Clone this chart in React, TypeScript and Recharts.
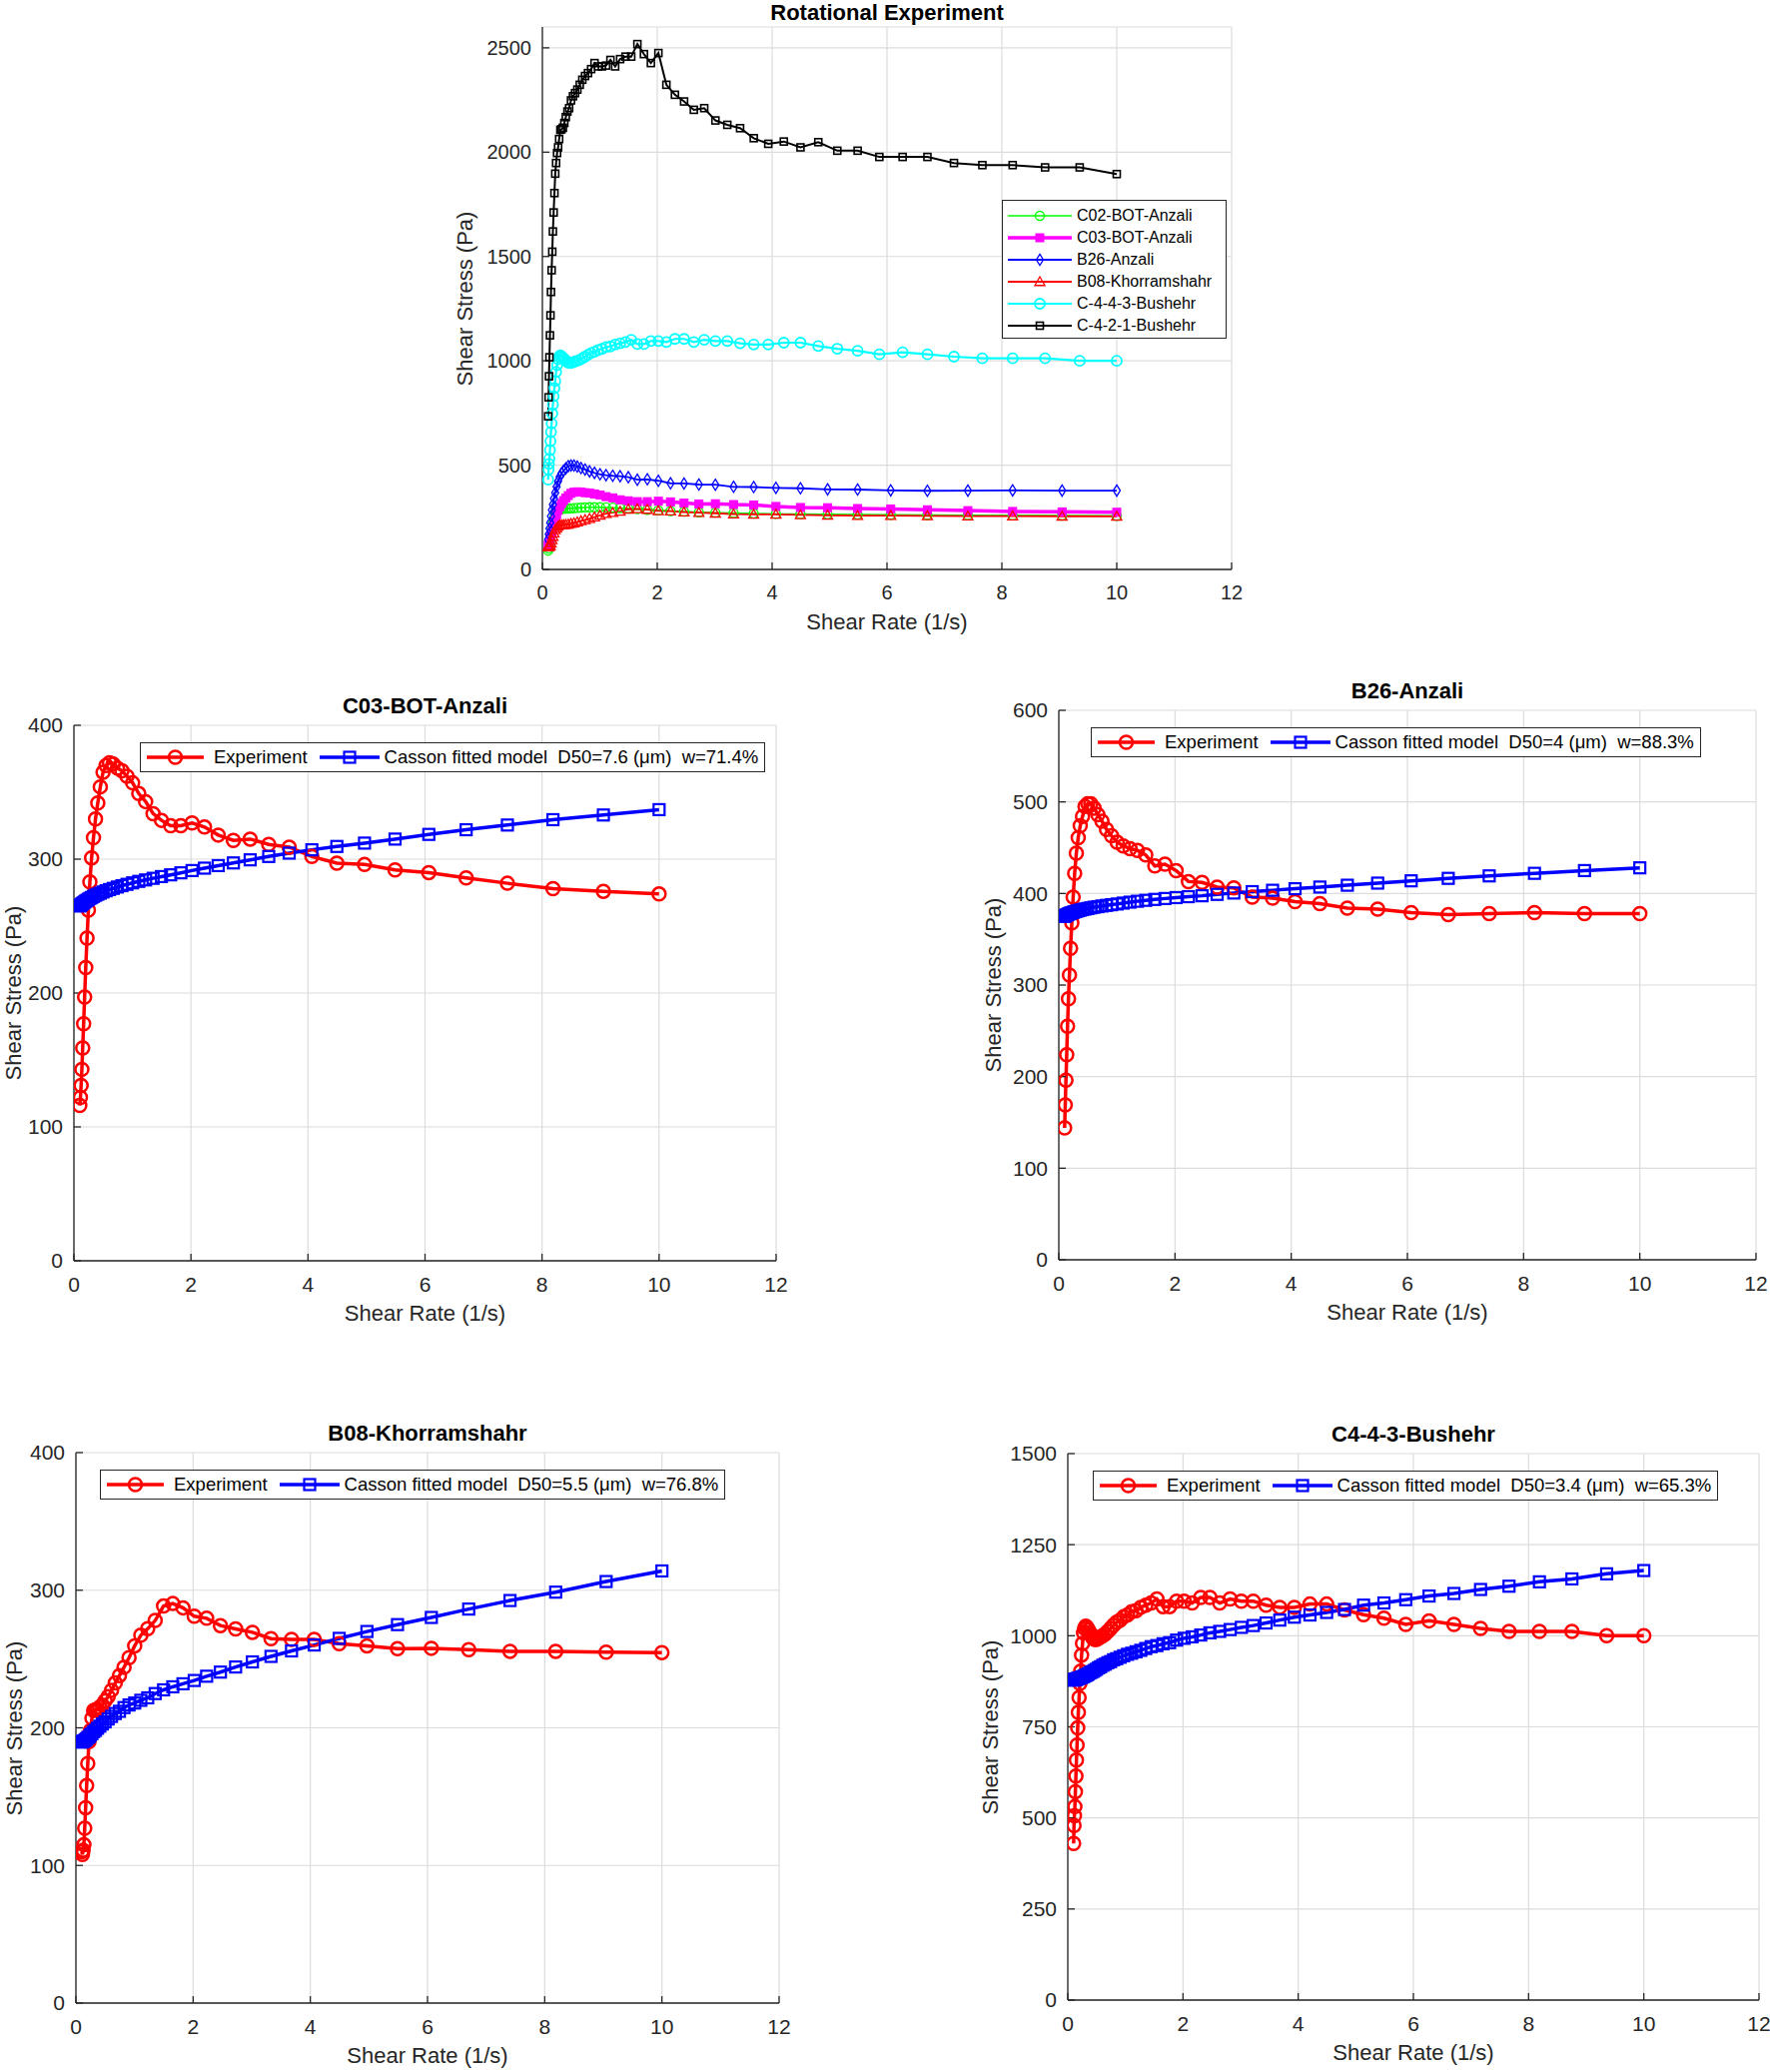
import React from 'react';
import { LineChart, Line, XAxis, YAxis, CartesianGrid } from 'recharts';

// shear rate grids (1/s)
const rateA = [0.1, 0.111, 0.123, 0.136, 0.15, 0.166, 0.183, 0.202, 0.224, 0.247, 0.273, 0.302, 0.334, 0.369, 0.408, 0.451, 0.498, 0.55, 0.608, 0.672, 0.743, 0.821, 0.907, 1.003, 1.108, 1.225, 1.353, 1.496, 1.653, 1.827, 2.019, 2.231, 2.466, 2.725, 3.012, 3.329, 3.679, 4.066, 4.493, 4.966, 5.488, 6.065, 6.703, 7.408, 8.187, 9.048, 10];
const rateB = [0.101, 0.108, 0.115, 0.123, 0.132, 0.141, 0.15, 0.161, 0.172, 0.183, 0.196, 0.21, 0.224, 0.239, 0.256, 0.274, 0.292, 0.313, 0.334, 0.357, 0.382, 0.408, 0.436, 0.466, 0.498, 0.533, 0.569, 0.609, 0.651, 0.695, 0.743, 0.794, 0.849, 0.908, 0.97, 1.037, 1.109, 1.185, 1.267, 1.354, 1.447, 1.547, 1.654, 1.768, 1.889, 2.02, 2.159, 2.308, 2.467, 2.637, 2.818, 3.013, 3.22, 3.442, 3.68, 3.933, 4.204, 4.494, 4.804, 5.135, 5.489, 5.867, 6.272, 6.704, 7.166, 7.66, 8.188, 8.752, 9.355, 10];

// shear stress (Pa)
const c02Exp = [90, 100, 115, 135, 160, 190, 220, 245, 262, 275, 283, 288, 290, 291, 292, 292, 293, 294, 295, 296, 297, 298, 298, 298, 297, 296, 294, 292, 289, 286, 283, 280, 277, 274, 272, 270, 268, 266, 265, 264, 263, 262, 261, 260, 259, 258, 257];
const c03Exp = [116, 122, 131, 143, 159, 177, 197, 219, 241, 262, 283, 301, 316, 330, 342, 354, 365, 370, 372, 371, 368, 366, 362, 357, 349, 343, 334, 329, 325, 325, 327, 324, 318, 314, 315, 311, 309, 302, 297, 296, 292, 290, 286, 282, 278, 276, 274];
const c03Fit = [265, 265.5, 266, 266.5, 267, 267.5, 268, 268.7, 269.3, 270, 270.7, 271.4, 272.2, 273, 273.8, 274.6, 275.5, 276.4, 277.3, 278.2, 279.2, 280.2, 281.2, 282.3, 283.4, 284.5, 285.7, 287, 288.3, 289.8, 291.5, 293.3, 295.2, 297.2, 299.5, 302, 304.5, 307, 309.5, 312, 315, 318.5, 322, 325.5, 329.5, 333, 337];
const b26Exp = [144, 169, 196, 224, 255, 285, 311, 340, 368, 396, 422, 444, 461, 474, 484, 495, 498, 498, 493, 486, 479, 470, 463, 456, 452, 449, 447, 442, 430, 432, 425, 413, 412, 407, 406, 396, 395, 391, 389, 384, 383, 379, 377, 378, 379, 378, 378];
const b26Fit = [375, 375.5, 376, 376.5, 377, 377.5, 378, 378.5, 379, 379.5, 380, 380.6, 381.2, 381.8, 382.4, 383, 383.6, 384.3, 385, 385.6, 386.3, 387, 387.7, 388.5, 389.5, 390.5, 391.5, 392.5, 393.5, 394.5, 395.5, 396.5, 397.5, 399, 400.5, 402, 403.5, 405.2, 407, 409, 411.3, 413.8, 416.5, 419.2, 422, 425, 428];
const b08Exp = [110, 108, 111, 115, 127, 142, 158, 174, 190, 198, 207, 212.6, 213, 213.5, 215, 216.6, 219.6, 222.7, 227.3, 232.6, 238, 244, 251, 259.6, 267.3, 272, 278, 288.5, 290.3, 287.2, 281.1, 279.6, 274.3, 271.9, 269.4, 264.8, 264.2, 264.2, 261.1, 259.6, 257.5, 257.8, 256.8, 255.6, 255.6, 255, 254.7];
const b08Fit = [189.6, 189.9, 190.2, 190.5, 190.8, 191.4, 192, 192.9, 193.5, 194.8, 195.7, 197.2, 198.2, 199.7, 201.2, 202.8, 204.3, 206.4, 208.3, 210.4, 212, 214.7, 216.6, 218, 220, 221.8, 224.9, 227.6, 229.8, 232, 234.4, 237.5, 240.5, 244.2, 247.9, 251.9, 255.9, 260.2, 265, 270, 275, 280.2, 286.3, 292.5, 298.6, 306.3, 314];
const c443Exp = [430, 479, 506, 531, 572, 615, 659, 700, 747, 790, 830, 869, 903, 947, 979, 1008, 1020, 1026, 1022, 1016, 1008, 1002, 993, 990, 990, 993, 997, 1000, 1005, 1012, 1020, 1029, 1037, 1043, 1052, 1057, 1066, 1069, 1078, 1084, 1090, 1101, 1080, 1080, 1095, 1095, 1090, 1105, 1105, 1090, 1101, 1095, 1095, 1084, 1078, 1078, 1087, 1087, 1071, 1058, 1048, 1031, 1041, 1031, 1020, 1012, 1012, 1012, 1000, 1000];
const c443Fit = [878, 879, 879, 880, 880, 880, 881, 881, 883, 883, 884, 884, 885, 886, 887, 888, 890, 891, 893, 895, 898, 900, 902, 905, 908, 912, 915, 919, 922, 926, 929, 934, 937, 941, 945, 949, 952, 956, 960, 965, 970, 973, 978, 981, 988, 993, 997, 1002, 1008, 1012, 1017, 1023, 1028, 1035, 1043, 1051, 1057, 1064, 1072, 1084, 1090, 1099, 1109, 1116, 1127, 1136, 1148, 1156, 1170, 1179];
const c421Exp = [734, 825, 926, 1017, 1122, 1218, 1330, 1434, 1523, 1620, 1711, 1804, 1897, 1948, 1996, 2023, 2063, 2107, 2110, 2117, 2140, 2168, 2195, 2211, 2248, 2268, 2283, 2300, 2323, 2347, 2365, 2379, 2398, 2427, 2411, 2411, 2415, 2442, 2411, 2446, 2458, 2458, 2518, 2470, 2427, 2475, 2323, 2275, 2243, 2203, 2211, 2152, 2131, 2115, 2067, 2040, 2051, 2023, 2048, 2007, 2007, 1977, 1977, 1977, 1948, 1938, 1938, 1927, 1927, 1895];

const xTicks = [0, 2, 4, 6, 8, 10, 12];

const FONT = '"Liberation Sans", Arial, Helvetica, sans-serif';
const AX = '#262626';
const L = 100, T = 12, R = 12, B = 44;

type Pt = { x: number; y: number };
const pts = (xs: number[], ys: number[]): Pt[] => xs.map((x, i) => ({ x, y: ys[i] }));

type Kind = 'circle' | 'square' | 'diamond' | 'triangle';

interface Series {
  name: string;
  data: Pt[];
  color: string;
  width: number;
  marker: Kind;
  size: number;
  msw: number;
  fill?: string;
}

function Marker({ kind, cx, cy, size, color, sw, fill }: any) {
  const f = fill || 'none';
  if (kind === 'circle') return <circle cx={cx} cy={cy} r={size} fill={f} stroke={color} strokeWidth={sw} />;
  if (kind === 'square')
    return <rect x={cx - size} y={cy - size} width={size * 2} height={size * 2} fill={f} stroke={color} strokeWidth={sw} />;
  if (kind === 'diamond')
    return (
      <polygon
        points={`${cx},${cy - size * 1.6} ${cx + size},${cy} ${cx},${cy + size * 1.6} ${cx - size},${cy}`}
        fill={f}
        stroke={color}
        strokeWidth={sw}
      />
    );
  return (
    <polygon
      points={`${cx},${cy - size} ${cx + size},${cy + size * 0.75} ${cx - size},${cy + size * 0.75}`}
      fill={f}
      stroke={color}
      strokeWidth={sw}
    />
  );
}

function Sample({ s, w }: { s: Series; w: number }) {
  return (
    <svg width={w} height={22} style={{ display: 'block', flex: 'none' }}>
      <line x1={0} y1={11} x2={w} y2={11} stroke={s.color} strokeWidth={s.width} />
      <Marker kind={s.marker} cx={w / 2} cy={11} size={s.size} color={s.color} sw={s.msw} fill={s.fill} />
    </svg>
  );
}

interface Box { x: number; y: number; w: number; h: number }

function Panel({ box, title, yDomain, yTicks, series, yGap, tickFont, titleGap = 19 }: {
  box: Box; title: string; yDomain: number[]; yTicks: number[]; series: Series[]; yGap: number; tickFont: number; titleGap?: number;
}) {
  const { x, y, w, h } = box;
  const tickStyle = { fill: AX, fontSize: tickFont, fontFamily: FONT };
  return (
    <>
      <div style={{ position: 'absolute', left: x - L, top: y - T }}>
        <LineChart width={w + L + R} height={h + T + B} margin={{ top: T, right: R, bottom: 0, left: 0 }}>
          <CartesianGrid xAxisId="b" yAxisId="l" stroke="#dcdcdc" strokeWidth={1.2} />
          <XAxis xAxisId="b" type="number" dataKey="x" domain={[0, 12]} ticks={xTicks} interval={0} height={B}
            tickSize={-7} tickMargin={23} stroke={AX} strokeWidth={1.3} tick={tickStyle} allowDataOverflow />
          <XAxis xAxisId="t" orientation="top" type="number" dataKey="x" domain={[0, 12]} ticks={xTicks} interval={0}
            height={0} tickSize={-7} stroke={AX} strokeWidth={1.3} tick={false} allowDataOverflow />
          <YAxis yAxisId="l" type="number" domain={yDomain} ticks={yTicks} interval={0} width={L}
            tickSize={-7} tickMargin={18} stroke={AX} strokeWidth={1.3} tick={tickStyle} allowDataOverflow />
          <YAxis yAxisId="r" orientation="right" type="number" domain={yDomain} ticks={yTicks} interval={0} width={0}
            tickSize={-7} stroke={AX} strokeWidth={1.3} tick={false} allowDataOverflow />
          {series.map((s) => (
            <Line
              key={s.name}
              xAxisId="b"
              yAxisId="l"
              data={s.data}
              dataKey="y"
              type="linear"
              stroke={s.color}
              strokeWidth={s.width}
              isAnimationActive={false}
              activeDot={false}
              dot={(p: any) => (
                <Marker key={`${s.name}-${p.index}`} kind={s.marker} cx={p.cx} cy={p.cy} size={s.size}
                  color={s.color} sw={s.msw} fill={s.fill} />
              )}
            />
          ))}
        </LineChart>
      </div>
      <div style={{ position: 'absolute', left: x + w / 2, top: y - titleGap, transform: 'translate(-50%, -50%)',
        fontFamily: FONT, fontWeight: 'bold', fontSize: 22, color: '#000', whiteSpace: 'nowrap' }}>{title}</div>
      <div style={{ position: 'absolute', left: x + w / 2, top: y + h + 53, transform: 'translate(-50%, -50%)',
        fontFamily: FONT, fontSize: 22, color: AX, whiteSpace: 'nowrap' }}>Shear Rate (1/s)</div>
      <div style={{ position: 'absolute', left: x - yGap, top: y + h / 2, transform: 'translate(-50%, -50%) rotate(-90deg)',
        fontFamily: FONT, fontSize: 22, color: AX, whiteSpace: 'nowrap' }}>Shear Stress (Pa)</div>
    </>
  );
}

const expStyle = (data: Pt[]): Series => ({
  name: 'Experiment', data, color: '#ff0000', width: 3.5, marker: 'circle', size: 6.5, msw: 2.5,
});
const fitStyle = (data: Pt[]): Series => ({
  name: 'Casson', data, color: '#0000ff', width: 3.5, marker: 'square', size: 5.5, msw: 2.2,
});

function FitLegend({ left, top, s, text }: { left: number; top: number; s: Series[]; text: string }) {
  return (
    <div style={{ position: 'absolute', left, top, height: 30, border: `1px solid ${AX}`, background: '#fff',
      display: 'flex', alignItems: 'center', fontFamily: FONT, fontSize: 18.5, color: '#000', whiteSpace: 'pre',
      boxSizing: 'border-box', padding: '0 6px' }}>
      <Sample s={s[0]} w={57} />
      <span style={{ marginLeft: 10 }}>Experiment</span>
      <div style={{ marginLeft: 12 }}><Sample s={s[1]} w={60} /></div>
      <span style={{ marginLeft: 5 }}>{text}</span>
    </div>
  );
}

const topSeries: Series[] = [
  { name: 'C02-BOT-Anzali', data: pts(rateA, c02Exp), color: '#00ff00', width: 1.6, marker: 'circle', size: 4.5, msw: 1.3 },
  { name: 'C03-BOT-Anzali', data: pts(rateA, c03Exp), color: '#ff00ff', width: 3.5, marker: 'square', size: 4, msw: 1, fill: '#ff00ff' },
  { name: 'B26-Anzali', data: pts(rateA, b26Exp), color: '#0000ff', width: 1.8, marker: 'diamond', size: 3.5, msw: 1.3 },
  { name: 'B08-Khorramshahr', data: pts(rateA, b08Exp), color: '#ff0000', width: 1.8, marker: 'triangle', size: 5, msw: 1.3 },
  { name: 'C-4-4-3-Bushehr', data: pts(rateB, c443Exp), color: '#00ffff', width: 2.2, marker: 'circle', size: 5, msw: 1.8 },
  { name: 'C-4-2-1-Bushehr', data: pts(rateB, c421Exp), color: '#000000', width: 2, marker: 'square', size: 3.5, msw: 1.6 },
];

const c03Series = [expStyle(pts(rateA, c03Exp)), fitStyle(pts(rateA, c03Fit))];
const b26Series = [expStyle(pts(rateA, b26Exp)), fitStyle(pts(rateA, b26Fit))];
const b08Series = [expStyle(pts(rateA, b08Exp)), fitStyle(pts(rateA, b08Fit))];
const c443Series = [expStyle(pts(rateB, c443Exp)), fitStyle(pts(rateB, c443Fit))];

export default function App() {
  return (
    <div style={{ position: 'absolute', left: 0, top: 0, width: 1772, height: 2074, background: '#fff', overflow: 'hidden' }}>
      <Panel box={{ x: 543, y: 27, w: 690, h: 543 }} title="Rotational Experiment" yDomain={[0, 2600]}
        yTicks={[0, 500, 1000, 1500, 2000, 2500]} series={topSeries} yGap={77} tickFont={20} titleGap={14} />
      <div style={{ position: 'absolute', left: 1003, top: 200, width: 225, height: 139, border: `1px solid ${AX}`,
        background: '#fff', boxSizing: 'border-box', padding: '4px 0 0 5px', fontFamily: FONT, fontSize: 16, color: '#000' }}>
        {topSeries.map((s) => (
          <div key={s.name} style={{ display: 'flex', alignItems: 'center', height: 22 }}>
            <Sample s={s} w={64} />
            <span style={{ marginLeft: 5, whiteSpace: 'nowrap' }}>{s.name}</span>
          </div>
        ))}
      </div>

      <Panel box={{ x: 74, y: 726, w: 703, h: 536 }} title="C03-BOT-Anzali" yDomain={[0, 400]}
        yTicks={[0, 100, 200, 300, 400]} series={c03Series} yGap={60} tickFont={21} />
      <FitLegend left={140} top={743} s={c03Series} text={'Casson fitted model  D50=7.6 (μm)  w=71.4%'} />

      <Panel box={{ x: 1060, y: 711, w: 698, h: 550 }} title="B26-Anzali" yDomain={[0, 600]}
        yTicks={[0, 100, 200, 300, 400, 500, 600]} series={b26Series} yGap={65} tickFont={21} />
      <FitLegend left={1092} top={728} s={b26Series} text={'Casson fitted model  D50=4 (μm)  w=88.3%'} />

      <Panel box={{ x: 76, y: 1454, w: 704, h: 551 }} title="B08-Khorramshahr" yDomain={[0, 400]}
        yTicks={[0, 100, 200, 300, 400]} series={b08Series} yGap={61} tickFont={21} />
      <FitLegend left={100} top={1471} s={b08Series} text={'Casson fitted model  D50=5.5 (μm)  w=76.8%'} />

      <Panel box={{ x: 1069, y: 1455, w: 692, h: 547 }} title="C4-4-3-Bushehr" yDomain={[0, 1500]}
        yTicks={[0, 250, 500, 750, 1000, 1250, 1500]} series={c443Series} yGap={77} tickFont={21} />
      <FitLegend left={1094} top={1472} s={c443Series} text={'Casson fitted model  D50=3.4 (μm)  w=65.3%'} />
    </div>
  );
}
